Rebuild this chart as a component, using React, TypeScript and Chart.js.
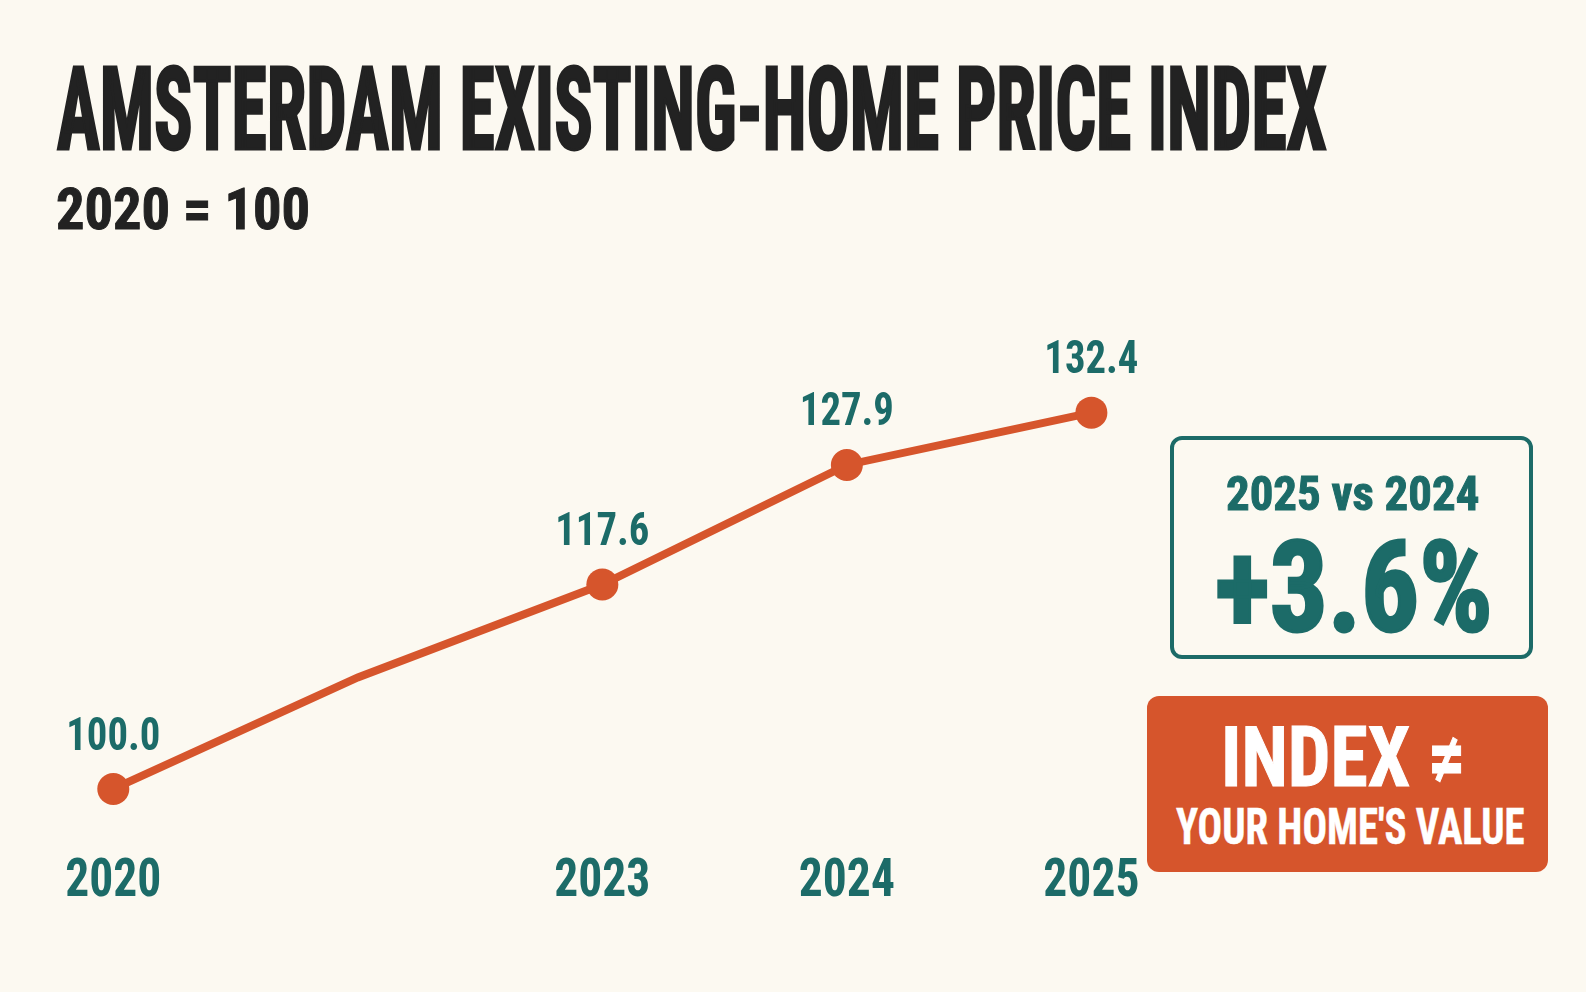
import React, { useEffect, useLayoutEffect, useRef, useState } from 'react';
import Chart from 'chart.js/auto';

// index values, 2020 = 100 (blank category = unlabelled interim point on the line)
const years = ['2020', '', '2023', '2024', '2025'];
const indexValues = [100.0, 109.6, 117.6, 127.9, 132.4];
const yMin = 96;
const yMax = 136;

const K = 1586 / 1568;
const k = (v: number) => v * K;

const FONT = "'Roboto Condensed', 'Liberation Sans Narrow', 'DejaVu Sans Condensed', sans-serif";
const TEAL = '#1c6b68';
const ORANGE = '#d6552c';
const INK = '#222222';
const PAPER = '#fcf9f1';

const labelPlugin = {
  id: 'valueAndYearLabels',
  afterDatasetsDraw(chart: any) {
    const { ctx } = chart;
    const meta = chart.getDatasetMeta(0);
    const xScale = chart.scales.x;
    ctx.save();
    ctx.fillStyle = TEAL;
    ctx.textAlign = 'center';
    ctx.textBaseline = 'alphabetic';

    // value above each marked point
    ctx.font = `bold ${k(45.8)}px ${FONT}`;
    const vSqueeze = Math.min(1, k(93) / ctx.measureText('100.0').width);
    meta.data.forEach((pt: any, i: number) => {
      if (!years[i]) return;
      const s = indexValues[i].toFixed(1);
      ctx.fillText(s, pt.x, pt.y - k(39), ctx.measureText(s).width * vSqueeze);
    });

    // year under each point
    ctx.font = `bold ${k(52.7)}px ${FONT}`;
    const ySqueeze = Math.min(1, k(95) / ctx.measureText('2020').width);
    years.forEach((label, i) => {
      if (!label) return;
      const x = xScale.getPixelForValue(i);
      ctx.fillText(label, x, k(886), ctx.measureText(label).width * ySqueeze);
    });
    ctx.restore();
  },
};

type FitProps = {
  text: string;
  x: number;
  top: number;
  size: number;
  width: number;
  color: string;
  stroke?: number;
  align?: 'left' | 'center';
};

// one line of text squeezed to a target width (coords in the 1568 copy)
function FitText({ text, x, top, size, width, color, stroke = 0, align = 'left' }: FitProps) {
  const ref = useRef<HTMLSpanElement>(null);
  const [scale, setScale] = useState(1);
  const w = k(width);

  useLayoutEffect(() => {
    if (!ref.current) return;
    const natural = ref.current.offsetWidth;
    if (natural > 0) setScale((w - stroke) / natural);
  }, [text, w, size, stroke]);

  const left = align === 'center' ? k(x) - w / 2 : k(x);
  return (
    <div
      style={{
        position: 'absolute',
        left,
        top: k(top),
        width: w,
        whiteSpace: 'nowrap',
        lineHeight: 1,
        fontSize: k(size),
        fontFamily: FONT,
        fontWeight: 700,
        color,
        WebkitTextStroke: stroke ? `${stroke}px ${color}` : undefined,
      }}
    >
      <span
        ref={ref}
        style={{
          display: 'inline-block',
          transform: `scaleX(${scale})`,
          transformOrigin: 'left top',
          marginLeft: stroke / 2,
        }}
      >
        {text}
      </span>
    </div>
  );
}

function LineChart() {
  const canvasRef = useRef<HTMLCanvasElement>(null);

  useEffect(() => {
    if (!canvasRef.current) return;

    // y pixels fitted to the picture: 100 -> 780, 132.4 -> 408 (1568 copy)
    const pxPerUnit = (k(780) - k(408)) / (132.4 - 100);
    const bottom = k(780) + (100 - yMin) * pxPerUnit;
    const top = bottom - (yMax - yMin) * pxPerUnit;

    const chart = new Chart(canvasRef.current, {
      type: 'line',
      data: {
        labels: years,
        datasets: [
          {
            data: indexValues,
            borderColor: ORANGE,
            borderWidth: 8,
            backgroundColor: ORANGE,
            pointBackgroundColor: ORANGE,
            pointBorderWidth: 0,
            pointRadius: (c: any) => (years[c.dataIndex] ? 16 : 0),
            pointHoverRadius: (c: any) => (years[c.dataIndex] ? 16 : 0),
            tension: 0,
            clip: false,
          },
        ],
      },
      options: {
        animation: false,
        responsive: true,
        maintainAspectRatio: false,
        events: [],
        layout: {
          padding: { left: k(112), right: 1586 - k(1079), top, bottom: 992 - bottom },
        },
        plugins: {
          legend: { display: false },
          tooltip: { enabled: false },
        },
        scales: {
          x: {
            display: false,
            offset: false,
          },
          y: {
            display: false,
            min: yMin,
            max: yMax,
          },
        },
      },
      plugins: [labelPlugin],
    });

    return () => {
      chart.destroy();
    };
  }, []);

  return (
    <div style={{ position: 'absolute', left: 0, top: 0, width: 1586, height: 992 }}>
      <canvas ref={canvasRef} />
    </div>
  );
}

export default function App() {
  useEffect(() => {
    document.body.style.margin = '0';
    document.body.style.background = PAPER;
  }, []);

  return (
    <div style={{ position: 'relative', width: 1586, height: 992, background: PAPER, overflow: 'hidden' }}>
      <LineChart />

      <FitText text="AMSTERDAM EXISTING-HOME PRICE INDEX" x={55} top={51.6} size={113.9} width={1258} color={INK} stroke={3} />
      <FitText text="2020 = 100" x={55} top={178.3} size={57.6} width={252} color={INK} stroke={1} />

      <div
        style={{
          position: 'absolute',
          left: k(1157),
          top: k(431),
          width: k(359),
          height: k(221),
          boxSizing: 'border-box',
          border: `4px solid ${TEAL}`,
          borderRadius: 12,
        }}
      />
      <FitText text="2025 vs 2024" x={1337.5} top={464.4} size={48} width={251} color={TEAL} stroke={1} align="center" />
      <FitText text="+3.6%" x={1338.5} top={519} size={125} width={277} color={TEAL} stroke={3} align="center" />

      <div
        style={{
          position: 'absolute',
          left: k(1134),
          top: k(688),
          width: k(396),
          height: k(174),
          background: ORANGE,
          borderRadius: 12,
        }}
      />
      <FitText text="INDEX ≠" x={1328.5} top={707.4} size={82.3} width={243} color="#ffffff" stroke={1} align="center" />
      <FitText text="YOUR HOME'S VALUE" x={1334.5} top={794.2} size={49.4} width={345} color="#ffffff" stroke={0.5} align="center" />
    </div>
  );
}
